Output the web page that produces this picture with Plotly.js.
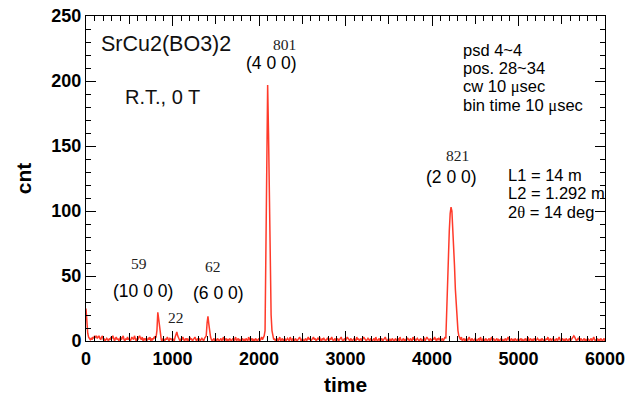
<!DOCTYPE html>
<html>
<head>
<meta charset="utf-8">
<script src="https://cdn.plot.ly/plotly-3.0.1.min.js"></script>
<style>html,body{margin:0;padding:0;background:#fff;}#chart{width:627px;height:401px;}</style>
</head>
<body>
<div id="chart"></div>
<script>
// time bins: start 0, width 10 (usec)
const timeStart = 0;
const binWidth = 10;
const counts = [
  25,12,6,3,2,1,2,1,3,2,
  4,3,4,2,3,4,2,1,3,4,
  1,2,0,1,2,1,0,2,1,3,
  2,4,1,0,2,3,1,2,0,1,
  3,1,2,4,1,0,2,1,3,1,
  2,0,1,3,2,1,4,1,0,2,
  1,3,4,2,1,3,0,2,1,2,
  0,1,2,1,3,0,2,1,2,3,
  2,3,8,22,17,11,4,1,0,2,
  1,0,2,1,3,1,0,2,1,1,
  2,1,0,3,6,7,4,2,1,0,
  2,1,3,1,0,2,1,2,0,1,
  3,1,2,0,1,2,3,1,0,2,
  1,2,0,1,2,1,0,2,3,4,
  14,19,13,7,3,1,0,1,2,0,
  1,0,2,1,0,1,2,0,1,3,
  0,1,2,0,1,0,2,1,0,1,
  2,0,1,3,0,1,2,0,1,0,
  1,2,0,1,0,2,1,0,3,1,
  0,1,2,0,1,0,2,1,0,1,
  2,0,1,3,1,2,4,8,60,150,
  197,160,110,68,20,8,3,1,2,0,
  1,2,0,1,3,0,1,2,0,1,
  2,0,1,2,1,0,3,1,0,2,
  1,0,2,1,0,1,2,3,1,0,
  2,1,0,1,2,0,1,3,1,2,
  0,1,2,3,1,2,0,1,2,1,
  3,1,0,2,1,2,1,0,1,2,
  1,0,2,1,3,1,0,1,2,0,
  1,2,0,1,2,3,1,0,1,2,
  0,1,3,2,1,0,2,1,0,1,
  2,1,0,3,1,2,0,1,2,0,
  1,3,2,1,0,1,2,1,0,2,
  1,0,1,2,0,3,1,0,1,2,
  0,1,2,0,1,2,3,1,0,1,
  2,0,1,0,2,1,0,1,2,0,
  1,2,0,3,1,0,1,2,0,1,
  0,1,2,1,0,2,1,0,3,1,
  2,0,1,2,1,0,1,2,0,1,
  1,2,0,1,3,2,1,0,2,1,
  0,2,1,3,1,0,2,1,2,1,
  0,1,2,0,1,3,2,25,55,72,
  85,98,103,100,88,74,58,40,25,15,
  8,4,2,1,3,0,1,2,0,1,
  2,0,1,3,1,0,2,1,0,1,
  2,1,0,1,2,0,3,1,0,2,
  1,0,2,1,0,1,2,0,1,3,
  0,2,1,0,1,2,0,1,0,1,
  2,0,1,0,1,2,0,1,3,1,
  0,1,2,0,1,0,2,1,0,1,
  2,0,1,2,0,1,0,1,2,0,
  1,3,0,1,2,0,1,0,2,1,
  0,1,2,1,0,1,0,2,1,0,
  1,0,2,1,3,0,1,2,0,1,
  2,1,0,1,2,0,1,3,1,0,
  1,2,0,1,0,2,1,0,1,2,
  0,1,2,3,4,3,1,0,1,2,
  1,0,2,1,0,1,2,0,1,0,
  2,1,0,1,2,0,1,3,1,0,
  1,2,0,1,0,2,1,0,1,2,
  0
];

// annotation texts
const sampleLabel = "SrCu2(BO3)2";
const conditionLabel = "R.T., 0 T";
const peakIntegrals = ["801", "821", "59", "22", "62"];
const peakIndices = ["(4 0 0)", "(2 0 0)", "(10 0 0)", "(6 0 0)"];
const settingsLines = ["psd 4~4", "pos. 28~34", "cw 10 <span style='font-family:Liberation Serif'>μ</span>sec", "bin time 10 <span style='font-family:Liberation Serif'>μ</span>sec"];
const geometryLines = ["L1 = 14 m", "L2 = 1.292 m", "2<span style='font-family:Liberation Serif'>θ</span> = 14 deg"];

const sans = "Liberation Sans, Arial, sans-serif";
const serif = "Liberation Serif, Times New Roman, serif";

const trace = {
  type: "scatter", mode: "lines",
  x0: timeStart, dx: binWidth, y: counts,
  line: {color: "#ff3a2a", width: 1.5},
  hoverinfo: "skip", showlegend: false
};
const dummy = {type: "scatter", x: [], y: [], xaxis: "x2", yaxis: "y", showlegend: false, hoverinfo: "skip"};

function ann(x, y, text, opts) {
  return Object.assign({x: x, y: y, xref: "x", yref: "y", text: text, showarrow: false,
    xanchor: "center", yanchor: "middle", borderpad: 0, font: {family: sans, size: 17.5, color: "#000"}}, opts || {});
}
const serifFont = {family: serif, size: 15.5, color: "#222"};
const annotations = [
  ann(162, 228.5, sampleLabel, {xanchor: "left", font: {family: sans, size: 21.5, color: "#111"}}),
  ann(439, 187.7, conditionLabel, {xanchor: "left", font: {family: sans, size: 20, color: "#111"}}),
  ann(2300, 228.3, peakIntegrals[0], {font: serifFont}),
  ann(2150, 213.5, peakIndices[0]),
  ann(4300, 142.5, peakIntegrals[1], {font: serifFont}),
  ann(4231, 126, peakIndices[1]),
  ann(613, 59.5, peakIntegrals[2], {font: serifFont}),
  ann(659, 38.5, peakIndices[2]),
  ann(1040, 17.7, peakIntegrals[3], {font: serifFont}),
  ann(1468, 57, peakIntegrals[4], {font: serifFont}),
  ann(1526, 37, peakIndices[3])
];
const infoFont = {family: sans, size: 16.5, color: "#000"};
const settingsY = [224.2, 210, 195.8, 181.5];
settingsLines.forEach((t, i) => annotations.push(ann(4347, settingsY[i], t, {xanchor: "left", font: infoFont})));
const geomY = [127.7, 113.5, 99.2];
geometryLines.forEach((t, i) => annotations.push(ann(4867, geomY[i], t, {xanchor: "left", font: infoFont})));

const layout = {
  width: 627, height: 401,
  margin: {l: 86, r: 22, t: 16, b: 60},
  paper_bgcolor: "#fff", plot_bgcolor: "#fff",
  showlegend: false,
  xaxis: {
    range: [0, 6000], dtick: 1000, tick0: 0,
    ticks: "inside", ticklen: 10, tickwidth: 1, tickcolor: "#000",
    minor: {dtick: 100, ticks: "inside", ticklen: 5, tickwidth: 1, tickcolor: "#000"},
    showline: true, linecolor: "#000", linewidth: 1, mirror: "ticks",
    showgrid: false, zeroline: false,
    tickfont: {family: sans, size: 18, weight: "bold", color: "#000"},
    ticklabelstandoff: 1,
    title: {text: "time", font: {family: sans, size: 21, weight: "bold", color: "#000"}, standoff: 9}
  },
  xaxis2: {
    overlaying: "x", anchor: "y", side: "bottom",
    range: [0, 6000], tickvals: [500, 1500, 2500, 3500, 4500, 5500],
    ticks: "inside", ticklen: 8, tickwidth: 1, tickcolor: "#000",
    showticklabels: false, showline: false, mirror: "ticks", showgrid: false, zeroline: false
  },
  yaxis: {
    range: [0, 250], dtick: 50, tick0: 0,
    ticks: "inside", ticklen: 10, tickwidth: 1, tickcolor: "#000",
    minor: {dtick: 10, ticks: "inside", ticklen: 5, tickwidth: 1, tickcolor: "#000"},
    showline: true, linecolor: "#000", linewidth: 1, mirror: "ticks",
    showgrid: false, zeroline: false,
    tickfont: {family: sans, size: 18, weight: "bold", color: "#000"},
    title: {text: "cnt", font: {family: sans, size: 21, weight: "bold", color: "#000"}, standoff: 14}
  },
  annotations: annotations
};

Plotly.newPlot("chart", [trace, dummy], layout, {staticPlot: true, displayModeBar: false});
</script>
</body>
</html>
